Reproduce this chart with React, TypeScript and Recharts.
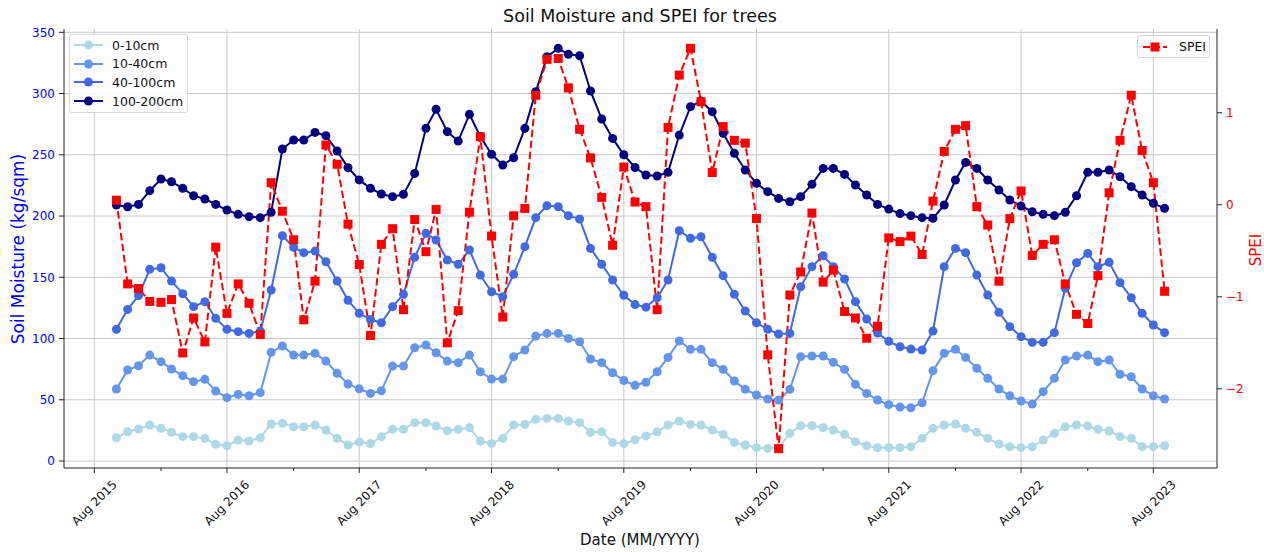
import React from "react";
import { LineChart, Line, XAxis, YAxis, CartesianGrid } from "recharts";

// monthly series, first value is Oct 2015, last is Sep 2023
const firstYear = 2015;
const firstMonth = 9; // 0-based -> October

const moisture0to10 = [
    19.0, 23.9, 26.1, 29.4, 26.7, 23.4, 19.9, 19.9, 18.5, 13.6, 12.5, 17.1,
    16.3, 19.0, 30.2, 30.8, 28.0, 28.0, 29.4, 25.3, 18.5, 13.1, 15.5, 14.2,
    19.9, 25.9, 25.9, 31.3, 31.3, 28.6, 24.8, 25.9, 27.2, 16.3, 14.4, 18.5,
    29.4, 29.9, 34.0, 34.8, 34.8, 32.7, 31.3, 23.4, 23.9, 15.2, 14.2, 17.4,
    20.5, 23.9, 29.4, 32.7, 29.9, 29.4, 25.3, 21.8, 15.2, 13.1, 10.9, 10.3,
    10.9, 22.6, 28.8, 28.8, 27.2, 25.3, 21.8, 15.8, 12.5, 10.9, 10.9, 10.9,
    11.7, 18.5, 26.7, 29.4, 30.2, 26.7, 23.4, 18.5, 13.9, 11.7, 10.9, 11.7,
    17.1, 22.6, 28.0, 29.4, 28.6, 25.9, 24.5, 19.9, 18.5, 11.7, 11.7, 12.5,
];

const moisture10to40 = [
    58.8, 74.3, 77.8, 86.5, 81.1, 75.1, 69.7, 64.8, 66.7, 57.1, 51.7, 54.4,
    53.3, 55.8, 88.7, 93.9, 86.5, 86.5, 87.9, 81.6, 71.6, 62.9, 58.9, 55.2,
    57.4, 77.6, 77.6, 92.5, 94.7, 88.4, 81.6, 80.3, 86.5, 72.9, 66.9, 66.9,
    85.2, 90.6, 102.0, 104.2, 104.2, 100.1, 97.4, 83.3, 80.3, 72.1, 65.7, 61.8,
    64.3, 72.9, 84.6, 98.0, 91.2, 91.2, 80.3, 74.8, 65.3, 58.5, 53.9, 50.6,
    49.8, 58.5, 85.2, 85.7, 85.7, 80.6, 74.8, 62.6, 55.2, 49.8, 46.0, 44.1,
    43.5, 47.6, 73.7, 87.9, 91.2, 84.6, 75.7, 67.5, 58.8, 53.3, 49.0, 46.5,
    56.6, 67.5, 82.5, 85.7, 86.5, 81.1, 82.5, 70.8, 68.8, 58.8, 53.3, 50.6,
];

const moisture40to100 = [
    107.5, 123.8, 135.0, 156.5, 157.8, 146.9, 136.6, 126.0, 130.1, 116.5, 107.5, 105.6,
    104.2, 106.1, 139.6, 184.0, 174.4, 170.1, 171.4, 162.7, 146.9, 131.2, 120.6, 115.5,
    112.9, 126.0, 136.1, 166.3, 185.9, 180.4, 164.1, 160.6, 172.3, 151.8, 138.2, 134.2,
    152.4, 175.0, 198.7, 208.5, 207.6, 200.3, 197.6, 173.6, 160.6, 147.8, 135.3, 127.7,
    125.6, 133.3, 147.8, 188.0, 181.8, 183.1, 166.3, 151.3, 136.1, 122.5, 112.9, 107.5,
    103.7, 104.2, 142.3, 158.7, 167.6, 158.7, 148.6, 130.1, 115.9, 104.5, 97.7, 93.3,
    91.4, 90.6, 106.1, 158.7, 173.6, 170.1, 151.8, 135.5, 121.4, 109.7, 101.5, 96.9,
    96.9, 104.8, 141.0, 161.9, 169.5, 158.7, 162.2, 145.6, 133.3, 120.6, 111.0, 104.8,
];

const moisture100to200 = [
    209.0, 207.6, 209.5, 220.7, 230.2, 228.0, 222.6, 216.6, 213.9, 209.5, 204.9, 201.4,
    199.5, 198.7, 203.0, 254.7, 262.1, 262.1, 268.3, 265.6, 253.1, 239.5, 229.5, 222.6,
    218.0, 215.8, 217.7, 234.8, 271.6, 287.1, 268.9, 261.2, 283.0, 265.0, 250.4, 241.6,
    247.6, 271.6, 301.5, 330.1, 336.9, 332.0, 330.9, 302.1, 279.2, 263.4, 250.0, 239.6,
    233.5, 232.7, 235.7, 266.1, 289.3, 293.9, 285.2, 267.5, 251.2, 237.6, 226.7, 219.9,
    214.4, 211.7, 215.8, 225.9, 238.9, 238.9, 234.0, 225.3, 217.2, 209.5, 205.7, 202.0,
    200.3, 198.7, 198.1, 209.0, 229.4, 243.8, 238.9, 229.4, 221.2, 213.1, 208.2, 203.5,
    201.4, 200.3, 203.0, 216.6, 235.7, 235.7, 237.6, 232.1, 224.0, 217.2, 210.4, 206.3,
];

const spei = [
    0.05, -0.86, -0.91, -1.05, -1.06, -1.03, -1.61, -1.23, -1.49, -0.46, -1.18, -0.86,
    -1.07, -1.41, 0.24, -0.07, -0.38, -1.25, -0.83, 0.65, 0.44, -0.21, -0.65, -1.42,
    -0.43, -0.26, -1.14, -0.16, -0.51, -0.05, -1.50, -1.15, -0.08, 0.74, -0.34, -1.22,
    -0.12, -0.04, 1.19, 1.58, 1.59, 1.27, 0.82, 0.51, 0.08, -0.44, 0.41, 0.03,
    -0.02, -1.14, 0.84, 1.41, 1.70, 1.12, 0.35, 0.85, 0.70, 0.67, -0.15, -1.63,
    -2.65, -0.98, -0.73, -0.09, -0.84, -0.71, -1.16, -1.23, -1.45, -1.32, -0.36, -0.40,
    -0.34, -0.54, 0.04, 0.58, 0.82, 0.86, -0.02, -0.22, -0.83, -0.15, 0.15, -0.55,
    -0.43, -0.38, -0.86, -1.19, -1.29, -0.77, 0.13, 0.70, 1.19, 0.59, 0.24, -0.94,
];

const tickYears = [2015, 2016, 2017, 2018, 2019, 2020, 2021, 2022, 2023];
const xTickLabels = ["Aug 2015", "Aug 2016", "Aug 2017", "Aug 2018", "Aug 2019", "Aug 2020", "Aug 2021", "Aug 2022", "Aug 2023"];
const leftTicks = [0, 50, 100, 150, 200, 250, 300, 350];
const rightTicks = [-2, -1, 0, 1];

const depthSeries = [
    { key: "d1", name: "0-10cm", color: "#add8e6", values: moisture0to10 },
    { key: "d2", name: "10-40cm", color: "#6495ed", values: moisture10to40 },
    { key: "d3", name: "40-100cm", color: "#4169e1", values: moisture40to100 },
    { key: "d4", name: "100-200cm", color: "#000080", values: moisture100to200 },
];

const dates = spei.map((_, i) => Date.UTC(firstYear, firstMonth + i, 1));
const majorTicks = tickYears.map((y) => Date.UTC(y, 7, 1));
const minorTicks = tickYears.slice(1).map((y) => Date.UTC(y, 1, 1));
const allTicks = [...majorTicks, ...minorTicks].sort((a, b) => a - b);

const rows = dates.map((t, i) => {
    const row: Record<string, number> = { t, spei: spei[i] };
    depthSeries.forEach((s) => (row[s.key] = s.values[i]));
    return row;
});

const span = dates[dates.length - 1] - dates[0];
const xDomain = [dates[0] - span * 0.05, dates[dates.length - 1] + span * 0.05];

const FONT = "'DejaVu Sans', Verdana, sans-serif";
const AXIS = "#222";
const GRID = "#c8c8c8";

const DateTick = (props: any) => {
    const { x, y, payload } = props;
    const idx = majorTicks.indexOf(payload.value);
    const cy = y + 35;
    return (
        <g>
            <line x1={x} x2={x} y1={y} y2={y + (idx >= 0 ? 5 : 3)} stroke={AXIS} strokeWidth={1} />
            {idx >= 0 && (
                <text x={x} y={cy} textAnchor="middle" dominantBaseline="central"
                    transform={`rotate(-45 ${x} ${cy})`} fontSize={12} fill="#111" fontFamily={FONT}>
                    {xTickLabels[idx]}
                </text>
            )}
        </g>
    );
};

const SquareDot = (props: any) => {
    const { cx, cy, index } = props;
    if (cx == null || cy == null) return <g key={`sq-${index}`} />;
    return <rect key={`sq-${index}`} x={cx - 4.5} y={cy - 4.5} width={9} height={9} fill="#ff0000" />;
};

const LegendIcon = ({ color, square, dashed, w }: { color: string; square?: boolean; dashed?: boolean; w: number }) => (
    <svg width={w} height={10} style={{ display: "block", flex: "none" }}>
        <line x1={0} x2={w} y1={5} y2={5} stroke={color} strokeWidth={2} strokeDasharray={dashed ? "7 3" : undefined} />
        {square
            ? <rect x={w / 2 - 4.5} y={0.5} width={9} height={9} fill={color} />
            : <circle cx={w / 2} cy={5} r={4.5} fill={color} />}
    </svg>
);

const legendBox: React.CSSProperties = {
    position: "absolute",
    boxSizing: "border-box",
    border: "1px solid #d6d6d6",
    borderRadius: 3,
    background: "rgba(255,255,255,0.85)",
    fontFamily: FONT,
    fontSize: 12.5,
    color: "#111",
};

const App = () => {
    return (
        <div style={{ position: "absolute", left: 0, top: 0, width: 1264, height: 552, background: "#fff", fontFamily: FONT }}>
            <LineChart width={1264} height={552} data={rows} margin={{ top: 29, right: 0, bottom: 0, left: 0 }}>
                <CartesianGrid yAxisId="left" stroke={GRID} strokeWidth={1}
                    horizontalValues={leftTicks} verticalValues={majorTicks} />
                <XAxis dataKey="t" type="number" domain={xDomain} allowDataOverflow ticks={allTicks} interval={0}
                    tick={DateTick} tickLine={false} tickSize={0} tickMargin={0} height={84}
                    axisLine={{ stroke: AXIS }} />
                <XAxis xAxisId="top" dataKey="t" orientation="top" type="number" domain={xDomain} allowDataOverflow
                    tick={false} tickLine={false} height={0} axisLine={{ stroke: AXIS }} />
                <YAxis yAxisId="left" type="number" domain={[-5.7, 352.7]} allowDataOverflow ticks={leftTicks}
                    interval={0} width={64} tickSize={5} tickMargin={4}
                    tick={{ fill: "#0000ff", fontSize: 12, fontFamily: FONT }}
                    tickLine={{ stroke: AXIS }} axisLine={{ stroke: AXIS }} />
                <YAxis yAxisId="right" orientation="right" type="number" domain={[-2.86, 1.91]} allowDataOverflow
                    ticks={rightTicks} interval={0} width={47} tickSize={5} tickMargin={4}
                    tickFormatter={(v: number) => String(v).replace("-", "\u2212")}
                    tick={{ fill: "#ff0000", fontSize: 12, fontFamily: FONT }}
                    tickLine={{ stroke: AXIS }} axisLine={{ stroke: AXIS }} />
                {depthSeries.map((s) => (
                    <Line key={s.key} yAxisId="left" dataKey={s.key} name={s.name} stroke={s.color} strokeWidth={2}
                        dot={{ r: 4.5, fill: s.color, stroke: s.color, strokeWidth: 0 }}
                        activeDot={false} isAnimationActive={false} />
                ))}
                <Line yAxisId="right" dataKey="spei" name="SPEI" stroke="#ff0000" strokeWidth={2}
                    strokeDasharray="7.5 3.5" dot={SquareDot} activeDot={false} isAnimationActive={false} />
            </LineChart>

            <div style={{ position: "absolute", left: 0, top: 6, width: 1280, textAlign: "center", fontSize: 17.5, color: "#111" }}>
                Soil Moisture and SPEI for trees
            </div>
            <div style={{ position: "absolute", left: 18, top: 248.5, transform: "translate(-50%, -50%) rotate(-90deg)",
                whiteSpace: "nowrap", fontSize: 17, color: "#0000ff" }}>
                Soil Moisture (kg/sqm)
            </div>
            <div style={{ position: "absolute", left: 1256, top: 250, transform: "translate(-50%, -50%) rotate(-90deg)",
                whiteSpace: "nowrap", fontSize: 15, color: "#ff0000" }}>
                SPEI
            </div>
            <div style={{ position: "absolute", left: 0, top: 531, width: 1280, textAlign: "center", fontSize: 15, color: "#111" }}>
                Date (MM/YYYY)
            </div>

            <div style={{ ...legendBox, left: 69, top: 34, width: 119, height: 79, padding: "1px 0 0 4px" }}>
                {depthSeries.map((s) => (
                    <div key={s.key} style={{ display: "flex", alignItems: "center", height: 18.6 }}>
                        <LegendIcon color={s.color} w={29} />
                        <span style={{ marginLeft: 9, whiteSpace: "nowrap" }}>{s.name}</span>
                    </div>
                ))}
            </div>
            <div style={{ ...legendBox, left: 1137, top: 35, width: 73, height: 23, padding: "0 0 0 5px",
                display: "flex", alignItems: "center" }}>
                <LegendIcon color="#ff0000" square dashed w={24} />
                <span style={{ marginLeft: 12, whiteSpace: "nowrap" }}>SPEI</span>
            </div>
        </div>
    );
};

export default App;
